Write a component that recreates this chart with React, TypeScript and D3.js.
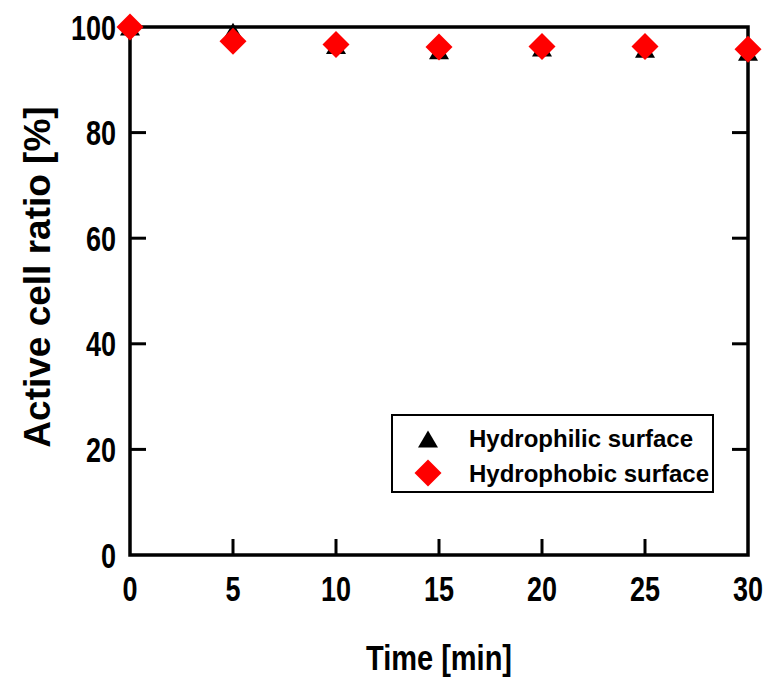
import React from "react";
import * as d3 from "d3";

// time points [min]
const times = [0, 5, 10, 15, 20, 25, 30];
// active cell ratio [%]
const hydrophilic = [100, 99.2, 96.5, 95.5, 96.0, 95.8, 95.2];
const hydrophobic = [100, 97.3, 96.7, 96.2, 96.3, 96.3, 95.8];

const xTicks = [0, 5, 10, 15, 20, 25, 30];
const yTicks = [0, 20, 40, 60, 80, 100];

const FONT = "'Liberation Sans', Arial, sans-serif";

const trianglePath = (w: number, h: number) =>
  `M0,${-h / 2}L${w / 2},${h / 2}L${-w / 2},${h / 2}Z`;
const diamondPath = (w: number, h: number) =>
  `M0,${-h / 2}L${w / 2},0L0,${h / 2}L${-w / 2},0Z`;

export default function App() {
  const W = 769;
  const H = 684;
  const left = 130;
  const right = 748;
  const top = 27;
  const bottom = 555;
  const tickLen = 16;
  const stretch = 1.27; // glyphs in the original are drawn tall and narrow

  const x = d3.scaleLinear().domain([0, 30]).range([left, right]);
  const y = d3.scaleLinear().domain([0, 100]).range([bottom, top]);

  const tri = trianglePath(20, 17);
  const dia = diamondPath(27, 27);

  return (
    <svg
      width={W}
      height={H}
      style={{ position: "absolute", left: 0, top: 0, background: "#fff" }}
      fontFamily={FONT}
      fontWeight="bold"
    >
      {/* inward ticks */}
      {xTicks.slice(1, -1).map((t) => (
        <line key={"xt" + t} x1={x(t)} x2={x(t)} y1={bottom} y2={bottom - tickLen} stroke="#000" strokeWidth={3} />
      ))}
      {yTicks.slice(1, -1).map((t) => (
        <g key={"yt" + t}>
          <line x1={left} x2={left + tickLen} y1={y(t)} y2={y(t)} stroke="#000" strokeWidth={3} />
          <line x1={right} x2={right - tickLen} y1={y(t)} y2={y(t)} stroke="#000" strokeWidth={3} />
        </g>
      ))}
      <rect x={left} y={top} width={right - left} height={bottom - top} fill="none" stroke="#000" strokeWidth={3.5} />

      {/* tick labels */}
      {xTicks.map((t) => (
        <text
          key={"xl" + t}
          transform={`translate(${x(t)},601) scale(1,${stretch})`}
          textAnchor="middle"
          fontSize={27}
        >
          {t}
        </text>
      ))}
      {yTicks.map((t) => (
        <text
          key={"yl" + t}
          transform={`translate(116,${y(t) + 12.5}) scale(1,${stretch})`}
          textAnchor="end"
          fontSize={27}
        >
          {t}
        </text>
      ))}

      {/* axis titles */}
      <text transform="translate(439,670) scale(1,1.2)" textAnchor="middle" fontSize={29}>
        Time [min]
      </text>
      <text transform="translate(50,277) rotate(-90)" textAnchor="middle" fontSize={37}>
        Active cell ratio [%]
      </text>

      {/* data */}
      {times.map((t, i) => (
        <path key={"h" + t} d={tri} transform={`translate(${x(t)},${y(hydrophilic[i])})`} fill="#000" />
      ))}
      {times.map((t, i) => (
        <path key={"p" + t} d={dia} transform={`translate(${x(t)},${y(hydrophobic[i])})`} fill="#ff0000" />
      ))}

      {/* legend */}
      <rect x={392} y={415} width={321} height={77} fill="#fff" stroke="#000" strokeWidth={2} />
      <path d={tri} transform="translate(428,439)" fill="#000" />
      <path d={dia} transform="translate(428,473)" fill="#ff0000" />
      <text x={469} y={447} fontSize={24}>
        Hydrophilic surface
      </text>
      <text x={469} y={482} fontSize={24}>
        Hydrophobic surface
      </text>
    </svg>
  );
}
